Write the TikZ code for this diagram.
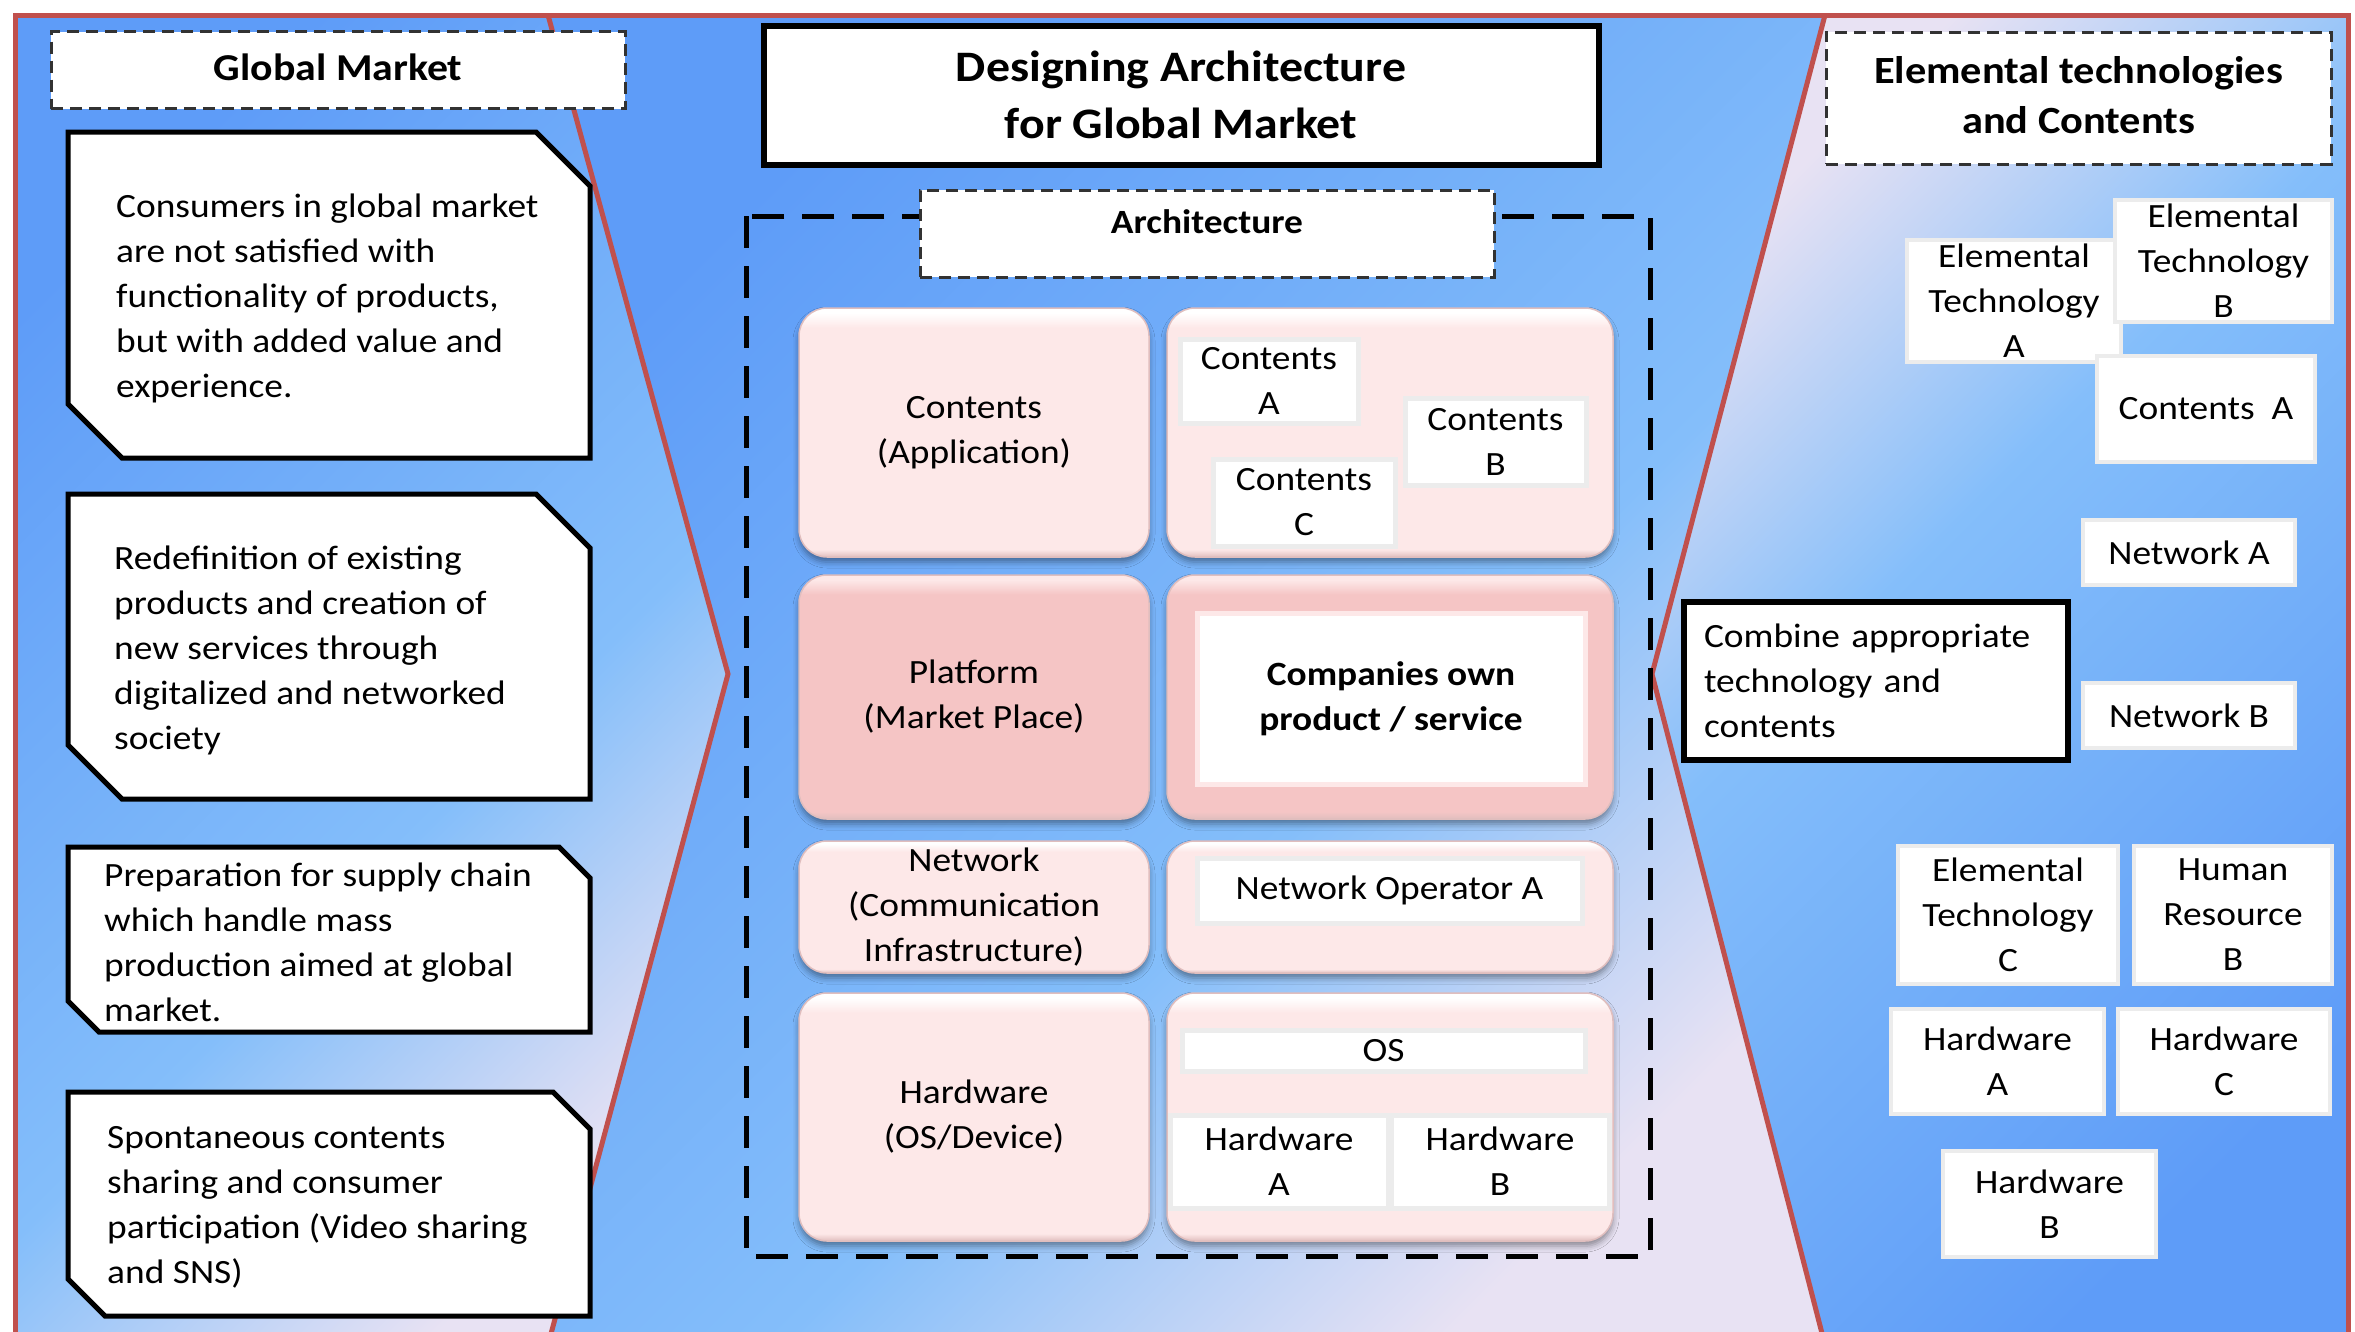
\documentclass[tikz,border=0pt]{standalone}
\usepackage{fontspec}
\setmainfont{Carlito}[FakeStretch=1.1]
\usetikzlibrary{shadows.blur}
\definecolor{frameRed}{RGB}{192,80,77}
\definecolor{bgBlue}{RGB}{94,156,248}
\definecolor{bgMid}{RGB}{132,190,250}
\definecolor{bgLav}{RGB}{232,226,243}
\definecolor{pkA}{RGB}{253,232,232}
\definecolor{pkB}{RGB}{245,197,197}
\definecolor{pkD}{RGB}{224,190,190}
\definecolor{wEdge}{RGB}{236,236,236}
\definecolor{dashGray}{RGB}{50,50,50}
\pgfdeclareverticalshading{pinkA}{100bp}{color(0bp)=(pkD); color(25bp)=(pkD); color(26.5bp)=(pkA); color(71bp)=(pkA); color(74bp)=(white); color(100bp)=(white)}
\pgfdeclareverticalshading{pinkB}{100bp}{color(0bp)=(pkD); color(25bp)=(pkD); color(26.5bp)=(pkB); color(71bp)=(pkB); color(74bp)=(pkA); color(100bp)=(pkA)}
\pgfdeclareverticalshading{bgsh}{100bp}{color(0bp)=(bgLav); color(25bp)=(bgLav); color(43bp)=(bgMid); color(75bp)=(bgBlue); color(100bp)=(bgBlue)}
\newcommand\mycallout[5]{%
  \draw[callout] (#1,#2) -- ({#3-#5},#2) -- (#3,{#2+#5}) -- (#3,#4) -- ({#1+#5},#4) -- (#1,{#4-#5}) -- cycle;}
\tikzset{
  txt/.style={font=\fontsize{34}{45}\selectfont},
  btxt/.style={font=\fontsize{34}{45}\selectfont\bfseries},
  dlabel/.style={draw=dashGray, line width=3pt, dash pattern=on 12pt off 7pt, fill=white, inner sep=0pt},
  callout/.style={draw=black, line width=5pt, fill=white, line join=miter},
  ctext/.style={txt, align=left, anchor=west, inner sep=0pt},
  rbox/.style={rounded corners=28pt, shade, shading=pinkA, draw=pkD, line width=1.5pt, inner sep=0pt, align=center, txt,
    blur shadow={shadow xshift=0pt, shadow yshift=-5pt, shadow blur radius=6pt, shadow opacity=40}},
  rboxB/.style={rbox, shading=pinkB},
  wbox/.style={draw=wEdge, line width=5pt, fill=white, inner sep=0pt, align=center, txt},
  rwbox/.style={draw=wEdge, line width=4pt, fill=white, inner sep=0pt, align=center, txt},
  divline/.style={draw=frameRed, line width=5pt, line join=miter},
}
\begin{document}
\begin{tikzpicture}[x=1pt, y=-1pt]
\useasboundingbox (0,0) rectangle (2355,1331);
\fill[white] (0,0) rectangle (2355,1331);
% backgrounds
\shade[shading=bgsh, shading angle=45]
  (15,15) -- (548,15) -- (728,674) -- (548,1345) -- (15,1345) -- cycle;
\shade[shading=bgsh, shading angle=45]
  (548,15) -- (1825,15) -- (1652,674) -- (1825,1345) -- (548,1345) -- (728,674) -- cycle;
\shade[shading=bgsh, shading angle=225]
  (1825,15) -- (2348,15) -- (2348,1345) -- (1825,1345) -- (1652,674) -- cycle;
% frame and dividers
\draw[divline] (15,1345) -- (15,15) -- (2348,15) -- (2348,1345);
\draw[divline] (548,15) -- (728,674) -- (548,1345);
\draw[divline] (1825,15) -- (1652,674) -- (1825,1345);

% ---------- left panel ----------
\node[dlabel, minimum width=574pt, minimum height=77pt] (gmbox) at (338,70) {};
\node[font=\fontsize{38}{50}\selectfont\bfseries, inner sep=0pt] (gm) at (338,67) {Global Market};

\mycallout{68}{132}{590}{458}{54}
\node[ctext] (c1) at (116,298) {Consumers in global market\\are not satisfied with\\functionality of products,\\but with added value and\\experience.};
\mycallout{68}{494}{590}{799}{54}
\node[ctext] (c2) at (114,650) {Redefinition of existing\\products and creation of\\new services through\\digitalized and networked\\society};
\mycallout{68}{847}{590}{1032}{31}
\node[ctext] (c3) at (104,942) {Preparation for supply chain\\which handle mass\\production aimed at global\\market.};
\mycallout{68}{1092}{590}{1316}{37}
\node[ctext] (c4) at (107,1207) {Spontaneous contents\\sharing and consumer\\participation (Video sharing\\and SNS)};

% ---------- center ----------
\node[draw=black, line width=6pt, fill=white, minimum width=835pt, minimum height=139pt, inner sep=0pt,
  align=center, font=\fontsize{43.5}{57}\selectfont\bfseries] (title) at (1181,95)
  {Designing Architecture\\for Global Market};

\draw[line width=5pt, dash pattern=on 32pt off 18pt] (746,216) rectangle (1650,1256);
\node[dlabel, minimum width=574pt, minimum height=87pt] (archbox) at (1207,233.5) {};
\node[btxt, inner sep=0pt] (arch) at (1207,222) {Architecture};

\node[rbox, minimum width=350pt, minimum height=249pt] (r1l) at (974,432.5) {Contents\\(Application)};
\node[rbox, minimum width=446pt, minimum height=249pt] (r1r) at (1390,432.5) {};
\node[wbox, minimum width=178pt, minimum height=84pt] (cA) at (1269,381) {Contents\\A};
\node[wbox, minimum width=181pt, minimum height=87pt] (cB) at (1495.5,441.5) {Contents\\B};
\node[wbox, minimum width=182pt, minimum height=87pt] (cC) at (1304,502.5) {Contents\\C};

\node[rboxB, minimum width=350pt, minimum height=244pt] (r2l) at (974,697) {Platform\\(Market Place)};
\node[rboxB, minimum width=446pt, minimum height=244pt] (r2r) at (1390,697) {};
\node[wbox, draw=pkA, minimum width=388pt, minimum height=171pt, btxt] (comp) at (1391,698.5) {Companies own\\product / service};

\node[rbox, minimum width=350pt, minimum height=132pt] (r3l) at (974,907) {Network\\(Communication\\Infrastructure)};
\node[rbox, minimum width=446pt, minimum height=132pt] (r3r) at (1390,907) {};
\node[wbox, minimum width=385pt, minimum height=65pt] (netop) at (1389.5,890.5) {Network Operator A};

\node[rbox, minimum width=350pt, minimum height=248pt] (r4l) at (974,1117) {Hardware\\(OS/Device)};
\node[rbox, minimum width=446pt, minimum height=248pt] (r4r) at (1390,1117) {};
\node[wbox, minimum width=403pt, minimum height=41pt] (os) at (1383.5,1050.5) {OS};
\node[wbox, minimum width=218pt, minimum height=93pt] (hwA) at (1279,1161.5) {Hardware\\A};
\node[wbox, minimum width=218pt, minimum height=93pt] (hwB) at (1500,1161.5) {Hardware\\B};

% ---------- right panel ----------
\node[dlabel, minimum width=505pt, minimum height=132pt] (etbox) at (2078.5,98) {};
\node[font=\fontsize{38.5}{50}\selectfont\bfseries, align=center, inner sep=0pt] (et) at (2078.5,95) {Elemental technologies\\and Contents};

\node[rwbox, minimum width=214pt, minimum height=122pt] (etA) at (2014,301) {Elemental\\Technology\\A};
\node[rwbox, minimum width=217pt, minimum height=122pt] (etB) at (2223.5,261) {Elemental\\Technology\\B};
\node[rwbox, minimum width=218pt, minimum height=106pt] (conA) at (2206,409) {Contents\ \ A};
\node[rwbox, minimum width=212pt, minimum height=65pt] (netA) at (2189,552.5) {Network A};
\node[draw=black, line width=6pt, fill=white, minimum width=384pt, minimum height=158pt, inner xsep=20pt, inner ysep=0pt,
  text width=344pt, align=left, txt] (comb) at (1876,681) {Combine appropriate\\technology and\\contents};
\node[rwbox, minimum width=212pt, minimum height=65pt] (netB) at (2189,715.5) {Network B};
\node[rwbox, minimum width=220pt, minimum height=138pt] (etC) at (2008,915) {Elemental\\Technology\\C};
\node[rwbox, minimum width=198pt, minimum height=138pt] (hrB) at (2233,915) {Human\\Resource\\B};
\node[rwbox, minimum width=213pt, minimum height=105pt] (rhwA) at (1997.5,1061.5) {Hardware\\A};
\node[rwbox, minimum width=212pt, minimum height=105pt] (rhwC) at (2224,1061.5) {Hardware\\C};
\node[rwbox, minimum width=213pt, minimum height=106pt] (rhwB) at (2049.5,1204) {Hardware\\B};
\end{tikzpicture}
\end{document}
